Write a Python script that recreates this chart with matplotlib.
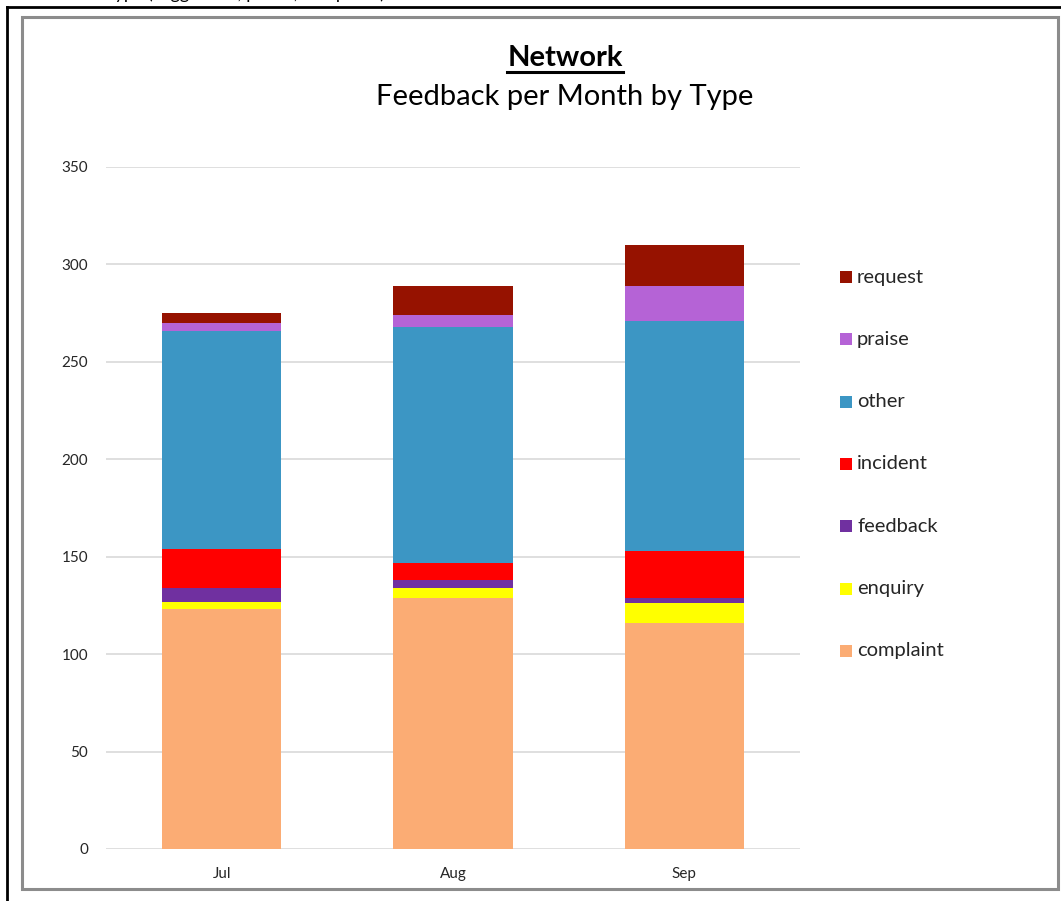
import matplotlib
matplotlib.use("Agg")
import matplotlib.pyplot as plt
from matplotlib.patches import Rectangle
from matplotlib.lines import Line2D
import numpy as np

plt.rcParams['font.family'] = ['Lato', 'DejaVu Sans']

months = ["Jul", "Aug", "Sep"]
series_names = ["complaint", "enquiry", "feedback", "incident", "other", "praise", "request"]
complaint = [123, 129, 116]
enquiry = [4, 5, 10]
feedback = [7, 4, 3]
incident = [20, 9, 24]
other = [112, 121, 118]
praise = [4, 6, 18]
request = [5, 15, 21]
series_values = [complaint, enquiry, feedback, incident, other, praise, request]
series_colors = ["#FBAC74", "#FFFF00", "#7030A0", "#FF0000", "#3C96C4", "#B563D6", "#961200"]
y_ticks = [0, 50, 100, 150, 200, 250, 300, 350]

W, H = 1061, 901
fig = plt.figure(figsize=(W / 100, H / 100), dpi=100)

# Axes placed in pixel terms
left_px, right_px, bottom_px, top_px = 106, 800, 849, 167
ax = fig.add_axes([left_px / W, 1 - bottom_px / H, (right_px - left_px) / W, (bottom_px - top_px) / H])

x = np.arange(len(months))
bottom = np.zeros(len(months))
for name, vals, col in zip(series_names, series_values, series_colors):
    ax.bar(x, vals, bottom=bottom, width=0.515, color=col, linewidth=0, zorder=3, label=name)
    bottom += np.array(vals)

ax.set_xlim(-0.5, len(months) - 0.5)
ax.set_ylim(0, 350)
ax.set_yticks(y_ticks)
ax.set_xticks(x)
ax.set_xticklabels(months)
ax.yaxis.grid(True, color="#D9D9D9", linewidth=1.2, zorder=0)
ax.set_axisbelow(True)
for s in ax.spines.values():
    s.set_visible(False)
ax.tick_params(axis="both", length=0, labelsize=11, colors="#262626")
ax.tick_params(axis="y", pad=13)
ax.tick_params(axis="x", pad=13)

# Titles
cx = 565 / W
t1 = fig.text(cx, 1 - 58 / H, "Network", ha="center", va="center", fontsize=21, fontweight="bold", color="#000000")
fig.text(cx, 1 - 97 / H, "Feedback per Month by Type", ha="center", va="center", fontsize=21, color="#000000")

fig.canvas.draw()
bb = t1.get_window_extent(renderer=fig.canvas.get_renderer())
uy = bb.y0 - 1
fig.add_artist(Line2D([bb.x0 / W, bb.x1 / W], [uy / H, uy / H], color="black", linewidth=2.2, transform=fig.transFigure))

# Legend, top entry first
leg_top = 277
leg_step = 62.3
for i, (name, col) in enumerate(reversed(list(zip(series_names, series_colors)))):
    yc = leg_top + i * leg_step
    fig.add_artist(Rectangle((840 / W, 1 - (yc + 6) / H), 12 / W, 12 / H, facecolor=col, edgecolor="none",
                             transform=fig.transFigure))
    fig.text(857 / W, 1 - yc / H, name, ha="left", va="center", fontsize=14.5, color="#262626")

# Frames
fig.add_artist(Rectangle((22 / W, 1 - 889 / H), (1058 - 22) / W, (889 - 17) / H, fill=False,
                         edgecolor="#8C8C8C", linewidth=2.2, transform=fig.transFigure))
fig.add_artist(Line2D([7 / W, 7 / W], [0, 1 - 7 / H], color="black", linewidth=2, transform=fig.transFigure))
fig.add_artist(Line2D([7 / W, 1], [1 - 7 / H, 1 - 7 / H], color="black", linewidth=2, transform=fig.transFigure))

# Caption line running off the top edge
fig.text(104 / W, 1 + 1 / H, "Type (suggestion, praise, complaint)", ha="left", va="baseline",
         fontsize=13, color="#000000")

fig.savefig("out.png", dpi=100, facecolor="white")
